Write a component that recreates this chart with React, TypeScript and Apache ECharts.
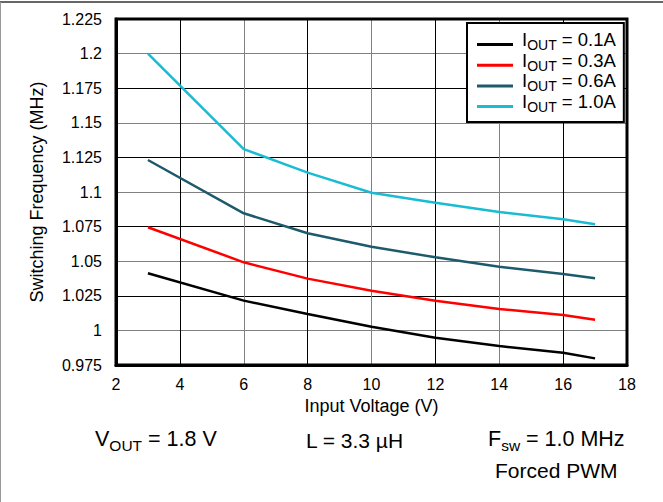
import React, { useEffect, useRef } from 'react';
import * as echarts from 'echarts';

// Input voltage (V) sample points
const inputVoltage = [3, 6, 8, 10, 12, 14, 16, 17];
// Switching frequency (MHz) per output current
const iout01 = [1.0413, 1.0215, 1.0118, 1.0027, 0.9947, 0.9887, 0.9839, 0.9798];
const iout03 = [1.0745, 1.0492, 1.0374, 1.0287, 1.0215, 1.0155, 1.0111, 1.0077];
const iout06 = [1.1231, 1.0846, 1.0702, 1.0605, 1.0528, 1.046, 1.0408, 1.0376];
const iout10 = [1.2, 1.131, 1.114, 1.0995, 1.0923, 1.0855, 1.0803, 1.0767];
const currentLabels = ['0.1A', '0.3A', '0.6A', '1.0A'];
const seriesColors = ['#000000', '#ff0000', '#1d5b6c', '#19bcd2'];

const FONT = '"Liberation Sans", Arial, Helvetica, sans-serif';

export default function App() {
  const ref = useRef<HTMLDivElement>(null);
  useEffect(() => {
    if (!ref.current) return;
    const chart = echarts.init(ref.current, undefined, { renderer: 'svg' });
    const allData = [iout01, iout03, iout06, iout10];
    const series = allData.map((vals, i) => ({
      name: 'IOUT = ' + currentLabels[i],
      type: 'line',
      data: inputVoltage.map((x, j) => [x, vals[j]]),
      showSymbol: false,
      symbol: 'none',
      lineStyle: { color: seriesColors[i], width: 2.5 },
      itemStyle: { color: seriesColors[i] },
      z: 5,
    }));
    const richMain = (size: number, lh: number, pad: number) => ({
      fontSize: size,
      lineHeight: lh,
      fontFamily: FONT,
      color: '#000',
      padding: [0, 0, pad, 0],
      verticalAlign: 'bottom',
    });
    const richSub = (size: number, lh: number) => ({
      fontSize: size,
      lineHeight: lh,
      fontFamily: FONT,
      color: '#000',
      verticalAlign: 'bottom',
    });
    chart.setOption({
      animation: false,
      backgroundColor: '#ffffff',
      textStyle: { fontFamily: FONT },
      grid: { left: 116, right: 36, top: 19, bottom: 137, show: true, borderColor: '#000', borderWidth: 3, z: 10 },
      legend: {
        left: 467,
        top: 23,
        orient: 'vertical',
        icon: 'rect',
        itemWidth: 36,
        itemHeight: 3,
        itemGap: -1.3,
        padding: [7, 8, 8, 10],
        borderColor: '#000',
        borderWidth: 2,
        backgroundColor: '#fff',
        data: series.map((s) => s.name),
        formatter: (name: string) => '{a|I}{s|OUT}{a| = ' + name.split('= ')[1] + '}',
        textStyle: {
          padding: [0, 0, 0, 4],
          rich: { a: richMain(18.5, 15, 3), s: richSub(14, 11) },
        },
      },
      xAxis: {
        type: 'value',
        min: 2,
        max: 18,
        interval: 2,
        name: 'Input Voltage (V)',
        nameLocation: 'middle',
        nameGap: 32,
        nameTextStyle: { fontSize: 18, color: '#000', fontFamily: FONT },
        axisLine: { show: true, lineStyle: { color: '#000', width: 3 } },
        axisTick: { show: false },
        axisLabel: { fontSize: 16, color: '#000', margin: 11, fontFamily: FONT },
        splitLine: { show: true, lineStyle: { color: ['#808080', '#000000'], width: 1 } },
      },
      yAxis: {
        type: 'value',
        min: 0.975,
        max: 1.225,
        interval: 0.025,
        name: 'Switching Frequency (MHz)',
        nameLocation: 'middle',
        nameGap: 70,
        nameTextStyle: { fontSize: 18, color: '#000', fontFamily: FONT },
        axisLine: { show: true, lineStyle: { color: '#000', width: 3 } },
        axisTick: { show: false },
        axisLabel: {
          fontSize: 16,
          color: '#000',
          margin: 14,
          fontFamily: FONT,
          formatter: (v: number) => String(parseFloat(v.toFixed(3))),
        },
        splitLine: { show: true, lineStyle: { color: ['#000000', '#808080'], width: 1 } },
      },
      series,
      graphic: [
        { type: 'line', shape: { x1: 0, y1: 2, x2: 663, y2: 2 }, style: { stroke: '#333', lineWidth: 1.5 } },
        { type: 'line', shape: { x1: 0.5, y1: 2, x2: 0.5, y2: 502 }, style: { stroke: '#999', lineWidth: 1 } },
        {
          type: 'text',
          x: 95,
          y: 453,
          style: {
            text: '{a|V}{s|OUT}{a| = 1.8 V}',
            rich: { a: richMain(21.5, 21, 3), s: richSub(15.5, 15) },
            verticalAlign: 'bottom',
            align: 'left',
          },
        },
        {
          type: 'text',
          x: 306,
          y: 447.5 - 7.3,
          style: { text: 'L = 3.3 µH', fontSize: 21, fontFamily: FONT, fill: '#000', verticalAlign: 'middle', align: 'left' },
        },
        {
          type: 'text',
          x: 488,
          y: 453,
          style: {
            text: '{a|F}{s|sw}{a| = 1.0 MHz}',
            rich: { a: richMain(21.5, 21, 3), s: richSub(15.5, 15) },
            verticalAlign: 'bottom',
            align: 'left',
          },
        },
        {
          type: 'text',
          x: 495,
          y: 478 - 7.3,
          style: { text: 'Forced PWM', fontSize: 21, fontFamily: FONT, fill: '#000', verticalAlign: 'middle', align: 'left' },
        },
      ],
    });
    return () => chart.dispose();
  }, []);
  return <div ref={ref} style={{ position: 'fixed', left: 0, top: 0, width: 663, height: 502 }} />;
}
